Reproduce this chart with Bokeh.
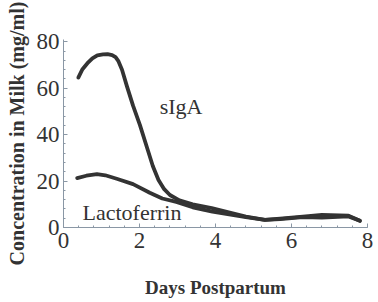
from bokeh.plotting import figure
from bokeh.models import Range1d, Label, FixedTicker
from bokeh.embed import file_html
from bokeh.resources import INLINE

# Data
siga_days = [0.39, 0.5, 0.63, 0.76, 0.89, 1.04, 1.16, 1.28, 1.37, 1.44, 1.54, 1.67, 1.83, 2.01, 2.22, 2.35, 2.5, 2.65, 2.8, 3.05, 3.4, 3.9, 4.4, 4.8, 5.3, 5.7, 6.3, 6.8, 7.5, 7.8]
siga_vals = [64.6, 68.2, 70.8, 72.9, 74.2, 74.6, 74.7, 74.3, 73.4, 71.8, 68, 60.8, 52.5, 44.2, 33.3, 26.5, 20.5, 16.5, 14, 11.7, 10, 8.4, 6.3, 4.7, 3.3, 3.8, 4.7, 5.4, 5.1, 2.9]

lacto_days = [0.36, 0.6, 0.88, 1.1, 1.4, 1.83, 2.27, 2.6, 2.97, 3.4, 3.92, 4.4, 4.8, 5.3, 5.7, 6.3, 6.8, 7.5, 7.8]
lacto_vals = [21.3, 22.3, 23, 22.5, 21, 18.7, 15, 12.5, 11, 8.7, 6.8, 5.5, 4.5, 3.3, 3.6, 4.5, 4.3, 4.8, 2.9]

x_ticks = [0, 2, 4, 6, 8]
y_ticks = [0, 20, 40, 60, 80]

SERIF = "Liberation Serif"
LINE = "#333333"
AX = "#8a97a5"

p = figure(width=376, height=300, output_backend="svg", toolbar_location=None,
           x_range=Range1d(0, 8), y_range=Range1d(0, 81),
           min_border_left=63, min_border_right=9, min_border_top=39, min_border_bottom=67)
p.outline_line_color = None
p.grid.visible = False
p.background_fill_color = "white"
p.border_fill_color = "white"

p.line(siga_days, siga_vals, line_color=LINE, line_width=3.8, line_cap="round", line_join="round")
p.line(lacto_days, lacto_vals, line_color=LINE, line_width=3.8, line_cap="round", line_join="round")

p.add_layout(Label(x=2.53, y=52, text="sIgA", text_font=SERIF, text_font_size="22px",
                   text_color="#333333", text_baseline="middle", text_align="left"))
p.add_layout(Label(x=0.5, y=6.3, text="Lactoferrin", text_font=SERIF, text_font_size="22px",
                   text_color="#333333", text_baseline="middle", text_align="left"))

for ax in (p.xaxis[0], p.yaxis[0]):
    ax.axis_line_color = AX
    ax.major_tick_line_color = AX
    ax.minor_tick_line_color = AX
    ax.major_tick_in = 4
    ax.major_tick_out = 0
    ax.minor_tick_in = 2
    ax.minor_tick_out = 0
    ax.major_label_text_font = SERIF
    ax.major_label_text_font_size = "23px"
    ax.major_label_text_color = "#333333"
    ax.axis_label_text_font = SERIF
    ax.axis_label_text_font_style = "bold"
    ax.axis_label_text_color = "#333333"

p.xaxis[0].axis_label_text_font_size = "19px"
p.yaxis[0].axis_label_text_font_size = "20px"
p.xaxis[0].ticker = FixedTicker(ticks=x_ticks, minor_ticks=[i * 0.4 for i in range(21)])
p.yaxis[0].ticker = FixedTicker(ticks=y_ticks, minor_ticks=[i * 4 for i in range(21)])
p.xaxis[0].axis_label = "Days Postpartum"
p.yaxis[0].axis_label = "Concentration in Milk (mg/ml)"
p.xaxis[0].major_label_standoff = 5
p.yaxis[0].major_label_standoff = 4
p.xaxis[0].axis_label_standoff = 26
p.yaxis[0].axis_label_standoff = 6

open("out.html", "w").write(file_html(p, INLINE))
